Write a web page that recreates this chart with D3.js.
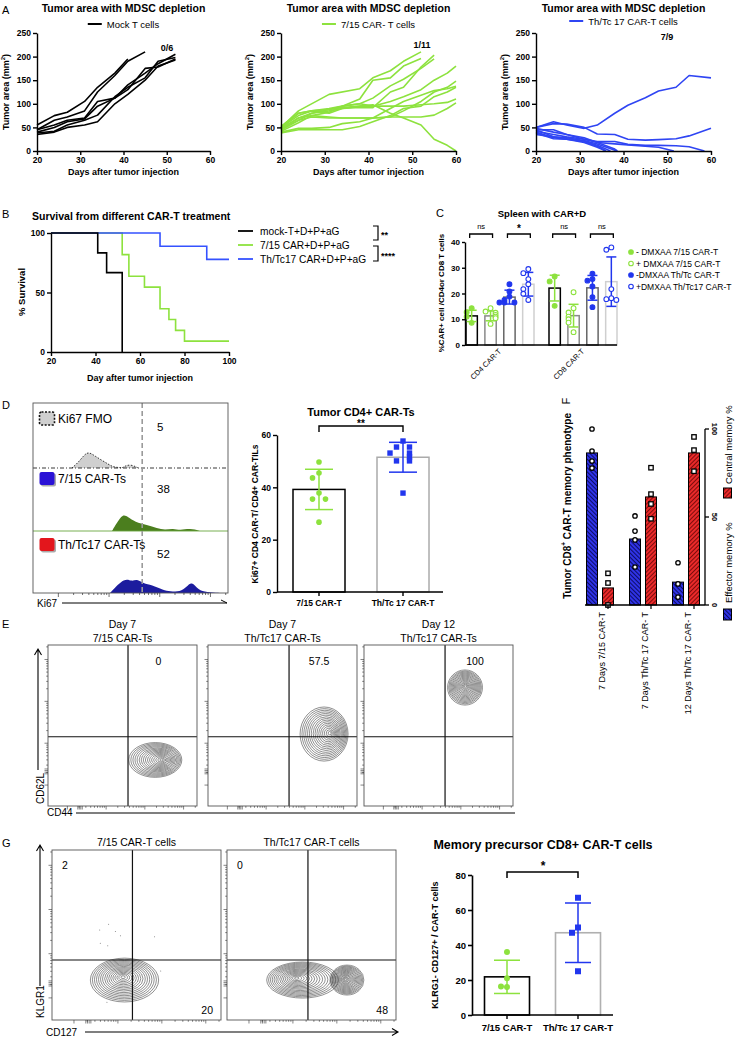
<!DOCTYPE html>
<html>
<head>
<meta charset="utf-8">
<script src="https://cdn.jsdelivr.net/npm/d3@7"></script>
<style>
  body { margin: 0; background: #fff; }
  text { font-family: "Liberation Sans", Arial, Helvetica, sans-serif; }
</style>
</head>
<body>
<svg id="fig" width="736" height="1042"></svg>
<script>
// ---------------- A: tumour growth ----------------
const tumorDays = [20, 30, 40, 50, 60];
const tumorAreaTicks = [0, 50, 100, 150, 200, 250];
const mockMice = [
  [[20,55],[24,75],[27,82],[31,105],[34,135],[38,165],[41,195]],
  [[20,45],[24,65],[27,72],[31,85],[34,125],[38,160],[41,190],[45,210]],
  [[20,45],[24,55],[27,65],[31,70],[34,105],[38,112],[41,140],[45,165],[48,185],[52,205]],
  [[20,40],[24,50],[27,62],[31,68],[34,95],[38,112],[41,130],[45,175],[48,178],[52,195]],
  [[20,38],[24,42],[27,55],[31,65],[34,76],[38,115],[41,135],[45,155],[48,190],[52,198]],
  [[20,35],[24,40],[27,50],[31,55],[34,62],[38,100],[41,120],[45,150],[48,180],[52,193]]
];
const car715Mice = [
  [[20,50],[24,85],[31,120],[38,132],[41,155],[45,170],[48,190],[52,210]],
  [[20,48],[24,70],[27,80],[31,88],[34,95],[38,110],[41,150],[45,155],[48,180],[52,196]],
  [[20,45],[24,65],[27,80],[31,85],[34,90],[38,92],[41,92],[45,125],[48,135],[52,178],[55,203]],
  [[20,42],[24,60],[27,75],[31,82],[34,95],[38,100],[41,112],[45,138],[48,152],[52,175],[55,195]],
  [[20,52],[24,80],[27,85],[31,90],[34,95],[38,100],[41,95],[45,105],[48,115],[52,130],[55,150],[58,165],[60,180]],
  [[20,45],[24,70],[27,75],[31,72],[34,70],[38,70],[41,70],[45,72],[48,85],[52,105],[55,125],[58,135],[60,148]],
  [[20,40],[24,48],[27,48],[31,50],[34,58],[38,62],[41,70],[45,90],[48,105],[52,118],[55,128],[58,132],[60,137]],
  [[20,50],[24,75],[27,85],[31,80],[34,90],[38,95],[41,95],[45,95],[48,95],[52,98],[55,100],[58,103],[60,110]],
  [[20,45],[24,65],[27,72],[31,70],[34,70],[38,70],[41,70],[45,72],[48,72],[52,72],[55,76],[58,90],[60,102]],
  [[20,48],[24,80],[27,85],[31,88],[34,92],[38,95],[41,98],[45,80],[48,70],[52,55],[55,25],[58,12],[60,0]],
  [[20,38],[24,45],[27,45],[31,45],[34,45],[38,52],[41,62],[45,75],[48,90],[52,95],[55,115],[58,125],[60,135]]
];
const thtc17Mice = [
  [[20,50],[24,62],[27,55],[31,48],[34,55],[38,80],[41,97],[45,113],[48,127],[52,135],[55,160],[60,155]],
  [[20,50],[24,58],[27,57],[31,50],[34,36],[38,35],[41,25],[45,23],[48,24],[52,26],[55,32],[60,48]],
  [[20,45],[24,45],[27,35],[31,25],[34,20],[38,20],[41,14],[45,12],[48,12],[52,11],[55,9],[58.5,0]],
  [[20,42],[24,35],[27,30],[31,25],[34,18],[38,15],[41,13],[45,10],[48,8],[51.5,0]],
  [[20,45],[24,30],[27,28],[31,22],[34,15],[38.5,0]],
  [[20,40],[24,28],[27,25],[31,20],[34,10],[36,0]],
  [[20,48],[24,40],[27,35],[31,28],[34,18],[38,4],[38.6,0]],
  [[20,38],[24,26],[27,25],[31,18],[34,8],[36,0]],
  [[20,35],[24,30],[27,26],[31,20],[34,12],[37,0]]
];

// ---------------- B: survival ----------------
const survivalGroups = ["mock-T+D+P+aG", "7/15 CAR+D+P+aG", "Th/Tc17 CAR+D+P+aG"];
const survMock = [[20,100],[41,83.3],[45,66.7],[52,0]];
const surv715 = [[20,100],[52,81.8],[55,63.6],[62,54.5],[69,36.4],[73,27.3],[76,18.2],[80,9.1],[100,9.1]];
const survThtc = [[20,100],[69,88.9],[90,77.8],[100,77.8]];
const survDays = [20, 40, 60, 80, 100];
const survTicks = [0, 50, 100];

// ---------------- C: spleen ----------------
const spleenGroups = ["CD4 CAR-T", "CD8 CAR-T"];
const spleenSeries = ["- DMXAA 7/15 CAR-T", "+ DMXAA 7/15 CAR-T", "-DMXAA Th/Tc CAR-T", "+DMXAA Th/Tc17 CAR-T"];
const spleenMeans = [[11.3, 11.3, 18.6, 23.6], [22.1, 11.4, 22.2, 24.6]];
const spleenSD = [[2.2, 1.9, 2.7, 4.6], [5, 4.4, 4.8, 9.6]];
const spleenPoints = [
  [[14.3,12.7,11,8.6], [14.3,13,12.5,11.7,11,10.4,8.2], [23.6,20.8,18.8,17.5,16.5,16.5,16.5], [29.5,27.9,25.6,23.6,21.7,19.9,17.5]],
  [[26.6,24.7,15.2], [20.5,14.3,12.6,11,10,8.7,5], [27.7,25.6,25,22.7,18.6,14.7], [37.9,37,21.7,18.2,17.8,17.5]]
];
const spleenSig = ["ns", "*", "ns", "ns"];
const spleenTicks = [0, 10, 20, 30, 40];

// ---------------- D: Ki67 ----------------
const histRows = ["Ki67 FMO", "7/15 CAR-Ts", "Th/Tc17 CAR-Ts"];
const histPct = ["5", "38", "52"];
const fmoHist = [[20,0],[24,7],[27.7,17],[31,13],[35,8],[38.5,4],[41,1],[44,0.5],[46,0],[47,2],[50,3.5],[53,1],[54,0]];
const car715Hist = [[40.5,0],[43,8],[46,17],[48.7,14],[52.3,9],[58.5,6],[63.6,2.7],[67.7,1],[71.8,2.7],[75.4,0.5],[80.5,2.7],[85.6,0]];
const thtcHist = [[39.5,0],[47.2,16],[50.6,11],[53.2,14.3],[56.6,9.3],[60.9,8.3],[66.8,2.7],[70.3,1.7],[75.4,1],[78.8,6],[81.4,12],[84.8,2.7],[89,1],[95.9,0]];
const ki67Gate = 56;
const ki67Groups = ["7/15 CAR-T", "Th/Tc 17 CAR-T"];
const ki67Means = [39.2, 51.5];
const ki67SD = [7.7, 5.7];
const ki67Points = [[49.7,45.5,43.6,37.8,35.5,35.5,26.7], [57.7,55.4,55.4,53.1,53.1,51.6,50.1,50.1,37.8]];
const ki67Ticks = [0, 20, 40, 60];

// ---------------- E: CD62L / CD44 ----------------
const cd62Titles = [["Day 7", "7/15 CAR-Ts"], ["Day 7", "Th/Tc17 CAR-Ts"], ["Day 12", "Th/Tc17 CAR-Ts"]];
const cd62Pct = ["0", "57.5", "100"];
const cd62Gates = [[0.537, 0.43], [0.544, 0.43], [0.544, 0.43]];
const cd62Blobs = [
  [{cx: 0.72, cy: 0.286, rx: 0.178, ry: 0.108, px: 0.765, py: 0.286}],
  [{cx: 0.779, cy: 0.447, rx: 0.161, ry: 0.168, px: 0.819, py: 0.453}],
  [{cx: 0.678, cy: 0.736, rx: 0.117, ry: 0.109, px: 0.682, py: 0.745}]
];

// ---------------- F: memory phenotype ----------------
const memGroups = ["7 Days 7/15 CAR-T", "7 Days Th/Tc 17 CAR- T", "12 Days Th/Tc 17 CAR- T"];
const effectorMean = [86.4, 37.5, 13];
const centralMean = [9.7, 61.4, 86.4];
const effectorPts = [[100, 87.5, 81.8, 77.8], [50.6, 42, 37, 21.6], [24, 12, 4.5]];
const centralPts = [[18, 12.5, 0], [78, 63, 57.4, 49], [95.5, 88, 76]];
const memTicks = [0, 50, 100];

// ---------------- G: KLRG1 / CD127 ----------------
const klrgTitles = ["7/15 CAR-T cells", "Th/Tc17 CAR-T cells"];
const klrgUL = ["2", "0"];
const klrgLR = ["20", "48"];
const klrgGates = [[0.476, 0.353], [0.479, 0.353]];
const klrgBlobs = [
  [{cx: 0.429, cy: 0.235, rx: 0.202, ry: 0.129, px: 0.42, py: 0.253}],
  [{cx: 0.447, cy: 0.235, rx: 0.212, ry: 0.106, px: 0.41, py: 0.247},
   {cx: 0.71, cy: 0.235, rx: 0.1, ry: 0.088, px: 0.7, py: 0.24}]
];
const klrgDots = [[0.335,0.563],[0.282,0.529],[0.375,0.52],[0.286,0.451],[0.33,0.437],[0.405,0.496],[0.607,0.49],[0.643,0.288],[0.325,0.104]];
const mpGroups = ["7/15 CAR-T", "Th/Tc 17 CAR-T"];
const mpMeans = [21.8, 47];
const mpSD = [9.5, 17];
const mpPoints = [[36, 21, 16, 16.3], [67, 50, 47, 25]];
const mpTicks = [0, 20, 40, 60, 80];

const flowDecades = [0.13, 0.39, 0.65, 0.91];

// ---------------- drawing ----------------
const green = "#8de23e";
const blueLine = "#2f45f3";
const bluePt = "#2136ee";

const svg = d3.select("#fig");
svg.append("rect").attr("width", 736).attr("height", 1042).attr("fill", "#fff");
const defs = svg.append("defs");

function txt(g, x, y, s, size, o) {
  o = o || {};
  const t = g.append("text")
    .attr("x", x).attr("y", y)
    .attr("font-size", size)
    .attr("font-weight", o.bold ? "bold" : "normal")
    .attr("text-anchor", o.anchor || "start")
    .attr("dominant-baseline", "central")
    .attr("fill", o.fill || "#000")
    .text(s);
  if (o.rot) t.attr("transform", "rotate(" + o.rot + "," + x + "," + y + ")");
  return t;
}

function styleAxis(a, size, w) {
  a.attr("font-family", null).attr("font-size", null);
  a.selectAll("path, line").attr("stroke", "#000").attr("stroke-width", w || 1.4);
  a.selectAll("text").attr("font-size", size).attr("font-weight", "bold").attr("fill", "#000");
}

// offsets so that close values sit side by side
function swarm(vals, yScale, step) {
  const placed = [];
  return vals.map(v => {
    const py = yScale(v);
    const n = placed.filter(p => Math.abs(p - py) < step).length;
    placed.push(py);
    const k = n === 0 ? 0 : (n % 2 ? -Math.ceil(n / 2) : n / 2);
    return k * step;
  });
}

function errBar(g, cx, y, m, sd, half, color) {
  g.append("line").attr("x1", cx).attr("x2", cx).attr("y1", y(m + sd)).attr("y2", y(m - sd))
    .attr("stroke", color).attr("stroke-width", 1.5);
  [m + sd, m - sd].forEach(v => g.append("line").attr("x1", cx - half).attr("x2", cx + half)
    .attr("y1", y(v)).attr("y2", y(v)).attr("stroke", color).attr("stroke-width", 1.5));
}

// panel letters
txt(svg, 2, 10, "A", 11);
txt(svg, 2, 214, "B", 11);
txt(svg, 436, 213, "C", 11);
txt(svg, 2, 405, "D", 11);
txt(svg, 2, 624, "E", 11);
txt(svg, 566, 401, "F", 11, {anchor: "middle", rot: -90});
txt(svg, 2, 843, "G", 11);

// ===== A =====
function tumorPanel(x0, x1, mice, color, legendText, ratio, rxy, legendY, yLabX) {
  const g = svg.append("g");
  const x = d3.scaleLinear().domain([20, 60]).range([x0, x1]);
  const y = d3.scaleLinear().domain([0, 250]).range([151, 33]);
  const cx = (x0 + x1) / 2;
  txt(g, cx, 8, "Tumor area with MDSC depletion", 10.5, {bold: true, anchor: "middle"});
  const lg = g.append("g");
  lg.append("line").attr("x1", 0).attr("x2", 14).attr("y1", legendY).attr("y2", legendY)
    .attr("stroke", color).attr("stroke-width", 2);
  const lt = txt(lg, 19, legendY, legendText, 9.5);
  const lw = 19 + lt.node().getComputedTextLength();
  lg.attr("transform", "translate(" + (cx - lw / 2) + ",0)");
  const line = d3.line().x(d => x(d[0])).y(d => y(d[1]));
  g.append("g").selectAll("path").data(mice).join("path")
    .attr("d", line).attr("fill", "none").attr("stroke", color)
    .attr("stroke-width", 1.6).attr("stroke-linejoin", "round");
  const ax = g.append("g").attr("transform", "translate(0,151)")
    .call(d3.axisBottom(x).tickValues(tumorDays).tickSize(4).tickSizeOuter(0).tickPadding(2));
  styleAxis(ax, 8.5);
  const ay = g.append("g").attr("transform", "translate(" + x0 + ",0)")
    .call(d3.axisLeft(y).tickValues(tumorAreaTicks).tickSize(4).tickSizeOuter(0).tickPadding(2));
  styleAxis(ay, 8.5);
  txt(g, cx, 172, "Days after tumor injection", 9, {bold: true, anchor: "middle"});
  const yl = txt(g, yLabX, 92, "Tumor area  (mm", 9, {bold: true, anchor: "middle", rot: -90});
  yl.append("tspan").attr("baseline-shift", "super").attr("font-size", 6).text("2");
  yl.append("tspan").text(")");
  txt(g, rxy[0], rxy[1], ratio, 9, {bold: true, anchor: "middle"});
}
tumorPanel(37, 210, mockMice, "#000", "Mock T cells", "0/6", [167, 48], 24, 6);
tumorPanel(281, 456, car715Mice, green, "7/15 CAR- T cells", "1/11", [422, 45], 24, 250);
tumorPanel(536, 711, thtc17Mice, blueLine, "Th/Tc 17 CAR-T cells", "7/9", [667, 37], 21, 505);

// ===== B =====
{
  const g = svg.append("g");
  const x = d3.scaleLinear().domain([20, 100]).range([51, 229]);
  const y = d3.scaleLinear().domain([0, 100]).range([352, 233]);
  txt(g, 32, 216, "Survival from different CAR-T treatment", 10.5, {bold: true});
  const step = d3.line().curve(d3.curveStepAfter).x(d => x(d[0])).y(d => y(d[1]));
  const curves = [[surv715, green], [survThtc, "#3552ff"], [survMock, "#000"]];
  curves.forEach(c => g.append("path").attr("d", step(c[0])).attr("fill", "none")
    .attr("stroke", c[1]).attr("stroke-width", 1.6));
  const ax = g.append("g").attr("transform", "translate(0,352)")
    .call(d3.axisBottom(x).tickValues(survDays).tickSize(4).tickSizeOuter(0).tickPadding(2));
  styleAxis(ax, 8.5);
  const ay = g.append("g").attr("transform", "translate(51,0)")
    .call(d3.axisLeft(y).tickValues(survTicks).tickSize(4).tickSizeOuter(0).tickPadding(2));
  styleAxis(ay, 8.5);
  txt(g, 140, 378, "Day after tumor injection", 9, {bold: true, anchor: "middle"});
  txt(g, 21, 292, "% Survival", 9.5, {bold: true, anchor: "middle", rot: -90});
  const colors = ["#000", green, "#3552ff"];
  survivalGroups.forEach((s, i) => {
    const yy = 231 + i * 14;
    g.append("line").attr("x1", 238).attr("x2", 253).attr("y1", yy).attr("y2", yy)
      .attr("stroke", colors[i]).attr("stroke-width", 1.8);
    txt(g, 260, yy, s, 10.2);
  });
  [[226, 240, "**"], [246, 261, "****"]].forEach(b => {
    g.append("path").attr("d", "M373," + b[0] + "H378V" + b[1] + "H373")
      .attr("fill", "none").attr("stroke", "#000").attr("stroke-width", 1.2);
    txt(g, 381, (b[0] + b[1]) / 2 + 2, b[2], 9, {bold: true});
  });
}

// ===== C =====
{
  const g = svg.append("g");
  const y = d3.scaleLinear().domain([0, 40]).range([345, 242]);
  const xg = d3.scalePoint().domain(spleenGroups).range([500, 583]);
  const xs = d3.scaleBand().domain(spleenSeries).range([-34, 34]).paddingInner(0.4);
  const bw = xs.bandwidth();
  const barStroke = ["#000", "#8a8a8a", "#666", "#cfcfcf"];
  const ptColor = [green, green, bluePt, bluePt];
  const ptFill = [true, false, true, false];
  txt(g, 542, 213, "Spleen with CAR+D", 9.5, {bold: true, anchor: "middle"});
  spleenGroups.forEach((grp, gi) => {
    spleenSeries.forEach((s, si) => {
      const cx = xg(grp) + xs(s) + bw / 2;
      const m = spleenMeans[gi][si];
      g.append("rect").attr("x", cx - bw / 2).attr("width", bw).attr("y", y(m))
        .attr("height", y(0) - y(m)).attr("fill", "#fff")
        .attr("stroke", barStroke[si]).attr("stroke-width", 1.5);
    });
  });
  spleenGroups.forEach((grp, gi) => {
    spleenSeries.forEach((s, si) => {
      const cx = xg(grp) + xs(s) + bw / 2;
      errBar(g, cx, y, spleenMeans[gi][si], spleenSD[gi][si], 5, ptColor[si]);
      const pts = spleenPoints[gi][si];
      const off = swarm(pts, y, 5);
      pts.forEach((v, i) => g.append("circle").attr("cx", cx + off[i]).attr("cy", y(v)).attr("r", 2.4)
        .attr("fill", ptFill[si] ? ptColor[si] : "#fff").attr("stroke", ptColor[si]).attr("stroke-width", 1.1));
    });
    [[0, 1], [2, 3]].forEach((pr, k) => {
      const a = xg(grp) + xs(spleenSeries[pr[0]]) + bw / 2 - 2;
      const b = xg(grp) + xs(spleenSeries[pr[1]]) + bw / 2 + 2;
      g.append("path").attr("d", "M" + a + ",238V234H" + b + "V238").attr("fill", "none")
        .attr("stroke", "#000").attr("stroke-width", 1.3);
      const lab = spleenSig[gi * 2 + k];
      txt(g, (a + b) / 2, lab === "*" ? 228 : 226, lab, lab === "*" ? 10 : 7.5,
        {anchor: "middle", bold: lab === "*"});
    });
    txt(g, xg(grp), 350, grp, 7.5, {anchor: "end", rot: -45});
  });
  const ax = g.append("g").attr("transform", "translate(0,345)");
  ax.append("line").attr("x1", 465).attr("x2", 617).attr("stroke", "#000").attr("stroke-width", 1.4);
  const ay = g.append("g").attr("transform", "translate(465,0)")
    .call(d3.axisLeft(y).tickValues(spleenTicks).tickSize(3).tickSizeOuter(0).tickPadding(2));
  styleAxis(ay, 8);
  txt(g, 441, 293, "%CAR+ cell /CD4or CD8  T cells", 8, {bold: true, anchor: "middle", rot: -90});
  spleenSeries.forEach((s, i) => {
    const yy = 252 + i * 11.5;
    g.append("circle").attr("cx", 631).attr("cy", yy).attr("r", 2.3)
      .attr("fill", ptFill[i] ? ptColor[i] : "#fff").attr("stroke", ptColor[i]).attr("stroke-width", 1.1);
    txt(g, 636, yy, s, 8.5);
  });
}

// ===== D: histograms =====
{
  const g = svg.append("g");
  const hx = d3.scaleLinear().domain([0, 100]).range([33, 228]);
  const bases = [468, 531, 593];
  const hists = [fmoHist, car715Hist, thtcHist];
  const fills = ["#cfcfcf", "#4b7e1e", "#1c1c9e"];
  hists.forEach((h, i) => {
    const hy = d3.scaleLinear().domain([0, 20]).range([bases[i], bases[i] - 20]);
    const area = d3.area().curve(d3.curveBasis).x(d => hx(d[0])).y0(bases[i]).y1(d => hy(d[1]));
    g.append("path").attr("d", area(h)).attr("fill", fills[i]);
    if (i === 0) {
      const ln = d3.line().curve(d3.curveBasis).x(d => hx(d[0])).y(d => hy(d[1]));
      g.append("path").attr("d", ln(h)).attr("fill", "none").attr("stroke", "#222")
        .attr("stroke-width", 0.9).attr("stroke-dasharray", "1.5,1.5");
    }
  });
  g.append("line").attr("x1", 33).attr("x2", 228).attr("y1", 468).attr("y2", 468)
    .attr("stroke", "#222").attr("stroke-width", 0.9).attr("stroke-dasharray", "4,2,1,2");
  g.append("line").attr("x1", 33).attr("x2", 228).attr("y1", 531).attr("y2", 531)
    .attr("stroke", "#6aa640").attr("stroke-width", 0.9);
  g.append("line").attr("x1", hx(ki67Gate)).attr("x2", hx(ki67Gate)).attr("y1", 403).attr("y2", 593)
    .attr("stroke", "#9a9a9a").attr("stroke-width", 1.6).attr("stroke-dasharray", "5,3");
  g.append("rect").attr("x", 33).attr("y", 403).attr("width", 195).attr("height", 190)
    .attr("fill", "none").attr("stroke", "#555").attr("stroke-width", 0.9);
  const iconY = [412, 472, 538];
  const iconFill = ["#cfcfcf", "#2a12d6", "#e3161c"];
  histRows.forEach((r, i) => {
    if (i > 0) g.append("rect").attr("x", 41).attr("y", iconY[i] + 1.5).attr("width", 15).attr("height", 13)
      .attr("rx", 2).attr("fill", "#aaa");
    g.append("rect").attr("x", 39.5).attr("y", iconY[i]).attr("width", 15).attr("height", 13)
      .attr("rx", 2).attr("fill", iconFill[i])
      .attr("stroke", i === 0 ? "#111" : "none").attr("stroke-width", 1.6)
      .attr("stroke-dasharray", i === 0 ? "2,1.5" : null);
    txt(g, 58, iconY[i] + 7, r, 12);
    txt(g, 157, [427, 489, 554][i], histPct[i], 11.5);
  });
  // Ki67 log ticks
  const tk = [];
  flowDecades.forEach(d => {
    tk.push({v: d, major: true});
    for (let k = 2; k <= 9; k++) if (d + Math.log10(k) * 0.26 < 1) tk.push({v: d + Math.log10(k) * 0.26, major: false});
  });
  const tx = d3.scaleLinear().domain([0, 1]).range([33, 228]);
  g.selectAll(null).data(tk).join("line")
    .attr("x1", d => tx(d.v)).attr("x2", d => tx(d.v)).attr("y1", 593).attr("y2", d => 593 + (d.major ? 4 : 2))
    .attr("stroke", "#333").attr("stroke-width", 0.7);
  txt(g, 37, 603, "Ki67", 10);
  g.append("path").attr("d", "M62,603H227M221,600L227,603").attr("fill", "none")
    .attr("stroke", "#000").attr("stroke-width", 1);
}

// ===== D: Ki67 bar chart =====
{
  const g = svg.append("g");
  const y = d3.scaleLinear().domain([0, 60]).range([592, 435]);
  const x = d3.scalePoint().domain(ki67Groups).range([319, 403]);
  const strokes = ["#000", "#ababab"];
  txt(g, 361, 412, "Tumor CD4+ CAR-Ts", 11, {bold: true, anchor: "middle"});
  ki67Groups.forEach((grp, i) => {
    const cx = x(grp), m = ki67Means[i];
    g.append("rect").attr("x", cx - 26).attr("width", 52).attr("y", y(m)).attr("height", y(0) - y(m))
      .attr("fill", "#fff").attr("stroke", strokes[i]).attr("stroke-width", 1.5);
    const col = i === 0 ? green : bluePt;
    errBar(g, cx, y, m, ki67SD[i], 14, col);
    const off = swarm(ki67Points[i], y, 6.5);
    ki67Points[i].forEach((v, j) => {
      if (i === 0) g.append("circle").attr("cx", cx + off[j]).attr("cy", y(v)).attr("r", 2.8).attr("fill", col);
      else g.append("rect").attr("x", cx + off[j] - 2.7).attr("y", y(v) - 2.7).attr("width", 5.4).attr("height", 5.4).attr("fill", col);
    });
  });
  const ax = g.append("g").attr("transform", "translate(0,592)");
  ax.append("line").attr("x1", 277).attr("x2", 443).attr("stroke", "#000").attr("stroke-width", 1.4);
  ki67Groups.forEach(grp => {
    ax.append("line").attr("x1", x(grp)).attr("x2", x(grp)).attr("y2", 4).attr("stroke", "#000").attr("stroke-width", 1.4);
    txt(ax, x(grp), 11, grp, 8.5, {bold: true, anchor: "middle"});
  });
  const ay = g.append("g").attr("transform", "translate(277,0)")
    .call(d3.axisLeft(y).tickValues(ki67Ticks).tickSize(4).tickSizeOuter(0).tickPadding(2));
  styleAxis(ay, 8.5);
  txt(g, 255, 514, "Ki67+ CD4 CAR-T/ CD4+ CAR-TILs", 8.5, {bold: true, anchor: "middle", rot: -90});
  g.append("path").attr("d", "M319,432V426H403V432").attr("fill", "none").attr("stroke", "#000").attr("stroke-width", 1.4);
  txt(g, 361, 423, "**", 10, {bold: true, anchor: "middle"});
}

// ===== F =====
{
  const g = svg.append("g");
  const mk = (id, bg, fg, rot) => {
    const p = defs.append("pattern").attr("id", id).attr("patternUnits", "userSpaceOnUse")
      .attr("width", 3).attr("height", 3).attr("patternTransform", "rotate(" + rot + ")");
    p.append("rect").attr("width", 3).attr("height", 3).attr("fill", bg);
    p.append("line").attr("x1", 0.5).attr("x2", 0.5).attr("y1", 0).attr("y2", 3).attr("stroke", fg).attr("stroke-width", 1);
  };
  mk("hatchBlue", "#2f33e6", "#0d0d66", -45);
  mk("hatchRed", "#ea2a2a", "#7e0c0c", 45);
  const y = d3.scaleLinear().domain([0, 100]).range([605, 429]);
  const x = d3.scalePoint().domain(memGroups).range([600, 686]);
  memGroups.forEach((grp, i) => {
    const sets = [[effectorMean[i], effectorPts[i], -8, "url(#hatchBlue)", "circle"],
                  [centralMean[i], centralPts[i], 8, "url(#hatchRed)", "square"]];
    sets.forEach(s => {
      const cx = x(grp) + s[2];
      g.append("rect").attr("x", cx - 5.5).attr("width", 11).attr("y", y(s[0])).attr("height", y(0) - y(s[0]))
        .attr("fill", s[3]).attr("stroke", "#000").attr("stroke-width", 1);
      s[1].forEach(v => {
        if (s[4] === "circle") g.append("circle").attr("cx", cx).attr("cy", y(v)).attr("r", 2.2)
          .attr("fill", "#fff").attr("stroke", "#000").attr("stroke-width", 1.3);
        else g.append("rect").attr("x", cx - 2.2).attr("y", y(v) - 2.2).attr("width", 4.4).attr("height", 4.4)
          .attr("fill", "#fff").attr("stroke", "#000").attr("stroke-width", 1.3);
      });
    });
    g.append("line").attr("x1", x(grp) + 8).attr("x2", x(grp) + 8).attr("y1", 605).attr("y2", 609)
      .attr("stroke", "#000").attr("stroke-width", 1.2);
    txt(g, x(grp) + 2, 612, grp, 9, {anchor: "end", rot: -90});
  });
  g.append("line").attr("x1", 585).attr("x2", 705).attr("y1", 605).attr("y2", 605).attr("stroke", "#000").attr("stroke-width", 1.3);
  g.append("line").attr("x1", 705).attr("x2", 705).attr("y1", y(100)).attr("y2", y(0)).attr("stroke", "#000").attr("stroke-width", 1.3);
  memTicks.forEach(t => {
    g.append("line").attr("x1", 705).attr("x2", 709).attr("y1", y(t)).attr("y2", y(t)).attr("stroke", "#000").attr("stroke-width", 1.3);
    txt(g, 714, y(t), String(t), 7.5, {bold: true, anchor: "middle", rot: 90});
  });
  const tl = txt(g, 567, 413, "Tumor CD8", 10, {bold: true, anchor: "end", rot: -90});
  tl.append("tspan").attr("baseline-shift", "super").attr("font-size", 6.5).text("+");
  tl.append("tspan").text(" CAR-T memory phenotype");
  g.append("rect").attr("x", 723.5).attr("y", 488).attr("width", 8).attr("height", 10)
    .attr("fill", "url(#hatchRed)").attr("stroke", "#000");
  txt(g, 728, 484, "Central memory %", 9.5, {anchor: "start", rot: -90});
  g.append("rect").attr("x", 723.5).attr("y", 609).attr("width", 8).attr("height", 11)
    .attr("fill", "url(#hatchBlue)").attr("stroke", "#000");
  txt(g, 728, 603, "Effector memory %", 9.5, {anchor: "start", rot: -90});
}

// ===== flow plots =====
function flowPlot(x0, y0, w, h, gate, blobs, rings, dots) {
  const g = svg.append("g");
  const x = d3.scaleLinear().domain([0, 1]).range([x0, x0 + w]);
  const y = d3.scaleLinear().domain([0, 1]).range([y0 + h, y0]);
  blobs.forEach(b => {
    for (let i = 0; i < rings; i++) {
      const t = 1 - i / rings;
      g.append("ellipse")
        .attr("cx", x(b.px + (b.cx - b.px) * t)).attr("cy", y(b.py + (b.cy - b.py) * t))
        .attr("rx", x(b.rx * t) - x(0)).attr("ry", y(0) - y(b.ry * t))
        .attr("fill", "none").attr("stroke", "#444").attr("stroke-width", 0.6);
    }
  });
  (dots || []).forEach(d => g.append("circle").attr("cx", x(d[0])).attr("cy", y(d[1])).attr("r", 0.5).attr("fill", "#777"));
  g.append("line").attr("x1", x(gate[0])).attr("x2", x(gate[0])).attr("y1", y0).attr("y2", y0 + h)
    .attr("stroke", "#111").attr("stroke-width", 1.2);
  g.append("line").attr("x1", x0).attr("x2", x0 + w).attr("y1", y(gate[1])).attr("y2", y(gate[1]))
    .attr("stroke", "#111").attr("stroke-width", 1.2);
  g.append("rect").attr("x", x0).attr("y", y0).attr("width", w).attr("height", h)
    .attr("fill", "none").attr("stroke", "#555").attr("stroke-width", 0.9);
  const tk = [];
  flowDecades.forEach(d => {
    tk.push({v: d, major: true});
    for (let k = 2; k <= 9; k++) if (d + Math.log10(k) * 0.26 < 1) tk.push({v: d + Math.log10(k) * 0.26, major: false});
  });
  [0.2, 0.21, 0.22, 0.23].forEach(v => tk.push({v: v, major: true}));
  g.selectAll(null).data(tk).join("line")
    .attr("x1", x0).attr("x2", d => x0 - (d.major ? 3.5 : 1.8))
    .attr("y1", d => y(d.v)).attr("y2", d => y(d.v)).attr("stroke", "#333").attr("stroke-width", 0.6);
  g.selectAll(null).data(tk).join("line")
    .attr("y1", y0 + h).attr("y2", d => y0 + h + (d.major ? 3.5 : 1.8))
    .attr("x1", d => x(d.v)).attr("x2", d => x(d.v)).attr("stroke", "#333").attr("stroke-width", 0.6);
  return {g, x, y};
}

// ===== E =====
{
  const xs = [48, 208, 364];
  xs.forEach((x0, i) => {
    const p = flowPlot(x0, 645, 149, 161, cd62Gates[i], cd62Blobs[i], 16);
    txt(p.g, x0 + 74.5, 624, cd62Titles[i][0], 10.5, {anchor: "middle"});
    txt(p.g, x0 + 74.5, 638, cd62Titles[i][1], 10.5, {anchor: "middle"});
    txt(p.g, (p.x(cd62Gates[i][0]) + x0 + 149) / 2 - 4, 661, cd62Pct[i], 10.5, {anchor: "middle"});
  });
  svg.append("path").attr("d", "M38,770V649M34.5,655L38,649L41.5,655").attr("fill", "none")
    .attr("stroke", "#000").attr("stroke-width", 1.1);
  txt(svg, 40, 804, "CD62L", 10, {rot: -90});
  txt(svg, 47, 812, "CD44", 10);
  svg.append("line").attr("x1", 76).attr("x2", 515).attr("y1", 813).attr("y2", 813)
    .attr("stroke", "#000").attr("stroke-width", 1.1);
}

// ===== G flow =====
{
  const xs = [52, 227];
  xs.forEach((x0, i) => {
    const p = flowPlot(x0, 850, 169, 170, klrgGates[i], klrgBlobs[i], 16, i === 0 ? klrgDots : null);
    txt(p.g, x0 + 84.5, 842, klrgTitles[i], 10.5, {anchor: "middle"});
    txt(p.g, x0 + 10, 865, klrgUL[i], 10.5);
    txt(p.g, x0 + 161, 1010, klrgLR[i], 10.5, {anchor: "end"});
  });
  svg.append("path").attr("d", "M40,986V845M36.5,851L40,845L43.5,851").attr("fill", "none")
    .attr("stroke", "#000").attr("stroke-width", 1.1);
  txt(svg, 40, 1018, "KLGR1", 10, {rot: -90});
  txt(svg, 46, 1032, "CD127", 10);
  svg.append("path").attr("d", "M85,1032H398M392,1028.5L398,1032L392,1035.5").attr("fill", "none")
    .attr("stroke", "#000").attr("stroke-width", 1.1);
}

// ===== G bar chart =====
{
  const g = svg.append("g");
  const y = d3.scaleLinear().domain([0, 80]).range([1015, 875]);
  const x = d3.scalePoint().domain(mpGroups).range([507, 578]);
  const strokes = ["#000", "#b0b0b0"];
  txt(g, 543, 845, "Memory precursor CD8+ CAR-T cells", 12.5, {bold: true, anchor: "middle"});
  mpGroups.forEach((grp, i) => {
    const cx = x(grp), m = mpMeans[i];
    g.append("rect").attr("x", cx - 22.5).attr("width", 45).attr("y", y(m)).attr("height", y(0) - y(m))
      .attr("fill", "#fff").attr("stroke", strokes[i]).attr("stroke-width", 1.6);
    const col = i === 0 ? green : bluePt;
    errBar(g, cx, y, m, mpSD[i], 13, col);
    const off = swarm(mpPoints[i], y, 6);
    mpPoints[i].forEach((v, j) => {
      if (i === 0) g.append("circle").attr("cx", cx + off[j]).attr("cy", y(v)).attr("r", 3).attr("fill", col);
      else g.append("rect").attr("x", cx + off[j] - 3).attr("y", y(v) - 3).attr("width", 6).attr("height", 6).attr("fill", col);
    });
  });
  const ax = g.append("g").attr("transform", "translate(0,1015)");
  ax.append("line").attr("x1", 472).attr("x2", 613).attr("stroke", "#000").attr("stroke-width", 1.6);
  mpGroups.forEach(grp => {
    ax.append("line").attr("x1", x(grp)).attr("x2", x(grp)).attr("y2", 4).attr("stroke", "#000").attr("stroke-width", 1.4);
    txt(ax, x(grp), 12, grp, 9.5, {bold: true, anchor: "middle"});
  });
  const ay = g.append("g").attr("transform", "translate(472,0)")
    .call(d3.axisLeft(y).tickValues(mpTicks).tickSize(4).tickSizeOuter(0).tickPadding(2));
  styleAxis(ay, 9.5, 1.6);
  txt(g, 435, 945, "KLRG1- CD127+ / CAR-T cells", 9, {bold: true, anchor: "middle", rot: -90});
  g.append("path").attr("d", "M507,878V872H578V878").attr("fill", "none").attr("stroke", "#000").attr("stroke-width", 1.5);
  txt(g, 543, 866, "*", 12, {bold: true, anchor: "middle"});
}
</script>
</body>
</html>
